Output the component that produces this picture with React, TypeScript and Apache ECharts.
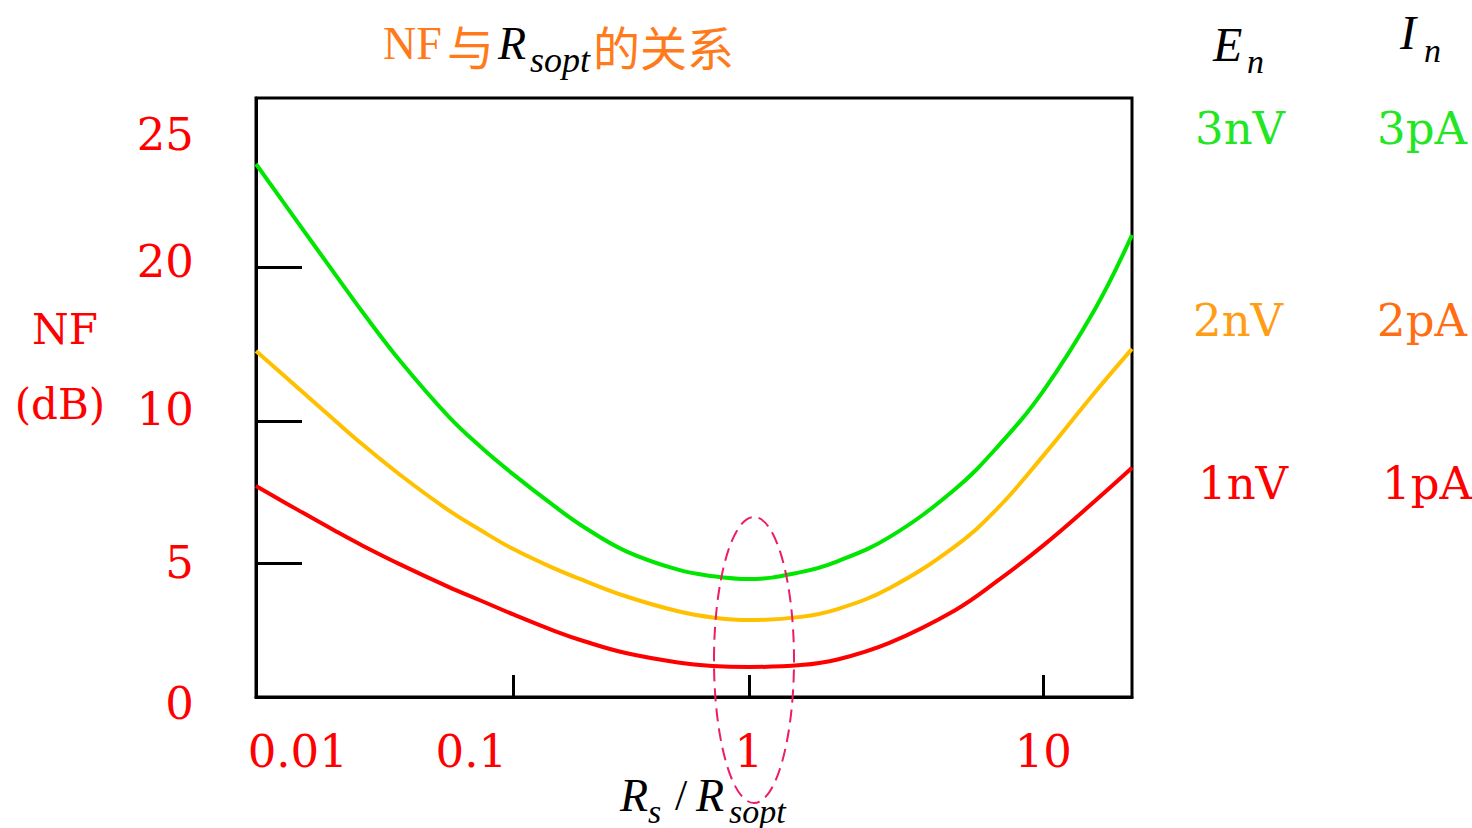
import { useEffect, useRef } from 'react';
import * as echarts from 'echarts';

// ---------- data ----------
// Rs / Rsopt sample points
const rsRatio = [0.0064, 0.01, 0.015, 0.02, 0.03, 0.05, 0.07, 0.1, 0.15, 0.2, 0.3, 0.5, 0.7, 1, 1.5, 2, 3, 5, 7, 10, 15, 20];
// NF (dB) for En = 3nV, In = 3pA
const nf3 = [23.9, 21.69, 19.47, 17.06, 13.86, 10.3, 9.11, 8.12, 6.99, 6.26, 5.42, 4.75, 4.51, 4.4, 4.66, 5.06, 5.91, 7.59, 9.1, 11.96, 17.29, 21.21];
// NF (dB) for En = 2nV, In = 2pA
const nf2 = [14.55, 12.15, 9.99, 9.17, 8.09, 6.86, 6.17, 5.49, 4.79, 4.34, 3.76, 3.2, 2.97, 2.87, 2.99, 3.28, 4.06, 5.58, 6.93, 8.78, 11.88, 14.68];
// NF (dB) for En = 1nV, In = 1pA
const nf1 = [7.71, 6.87, 6.12, 5.61, 4.94, 4.11, 3.61, 3.08, 2.46, 2.08, 1.64, 1.29, 1.16, 1.12, 1.19, 1.4, 2.02, 3.23, 4.34, 5.62, 7.19, 8.35];

const xLabelValues = [0.01, 0.1, 1, 10];
const xTickValues = [0.1, 1, 10];
const yLabelValues = [0, 5, 10, 20, 25];
const yTickValues = [5, 10, 20];
const xExtent = [0.0064, 20];
const yExtent = [0, 26.4];

const seriesNames = ['3nV / 3pA', '2nV / 2pA', '1nV / 1pA'];
const enLabels = ['3nV', '2nV', '1nV'];
const inLabels = ['3pA', '2pA', '1pA'];

// ---------- schematic (piecewise) axis scales of the drawing ----------
const X_LOG_KNOTS = [-2, -1, 0, 1];
const X_AXIS_KNOTS = [-1.532, -0.8, 0, 1];
const Y_DB_KNOTS = [0, 5, 10, 20, 25];
const Y_AXIS_KNOTS = [0, 0.9537, 1.9644, 3.0605, 4.0];

function interp(v: number, xs: number[], ys: number[]) {
  let i = 0;
  while (i < xs.length - 2 && v > xs[i + 1]) i++;
  const t = (v - xs[i]) / (xs[i + 1] - xs[i]);
  return ys[i] + t * (ys[i + 1] - ys[i]);
}
const xToAxis = (r: number) => interp(Math.log10(r), X_LOG_KNOTS, X_AXIS_KNOTS);
const yToAxis = (db: number) => interp(db, Y_DB_KNOTS, Y_AXIS_KNOTS);
function nearest(u: number, vals: number[], map: (v: number) => number) {
  let best = vals[0];
  let bd = Infinity;
  for (const v of vals) {
    const d = Math.abs(map(v) - u);
    if (d < bd) {
      bd = d;
      best = v;
    }
  }
  return best;
}

const RED = '#ff0000';
const GREEN = '#00e600';
const AMBER = '#ffc000';
const ORANGE = '#ff7a1a';
const SERIF = '"DejaVu Serif", serif';
const TIMES = '"Liberation Serif", serif';
const CJK = '"Noto Sans CJK SC", sans-serif';

function txt(text: string, x: number, y: number, fontSize: number, fill: string, fontFamily: string, opts: any = {}) {
  return {
    type: 'text',
    x,
    y,
    z: 20,
    style: {
      text,
      fill,
      fontSize,
      fontFamily,
      fontStyle: opts.italic ? 'italic' : 'normal',
      align: opts.align || 'left',
      textAlign: opts.align || 'left',
      verticalAlign: 'middle',
      textVerticalAlign: 'middle',
    },
  };
}

const labelRich = (padding: number[]) => ({ padding, color: RED, fontFamily: SERIF, fontSize: 45 });

export default function App() {
  const ref = useRef<HTMLDivElement>(null);
  useEffect(() => {
    if (!ref.current) return;
    const chart = echarts.init(ref.current, null, { renderer: 'svg' });
    const colors = [GREEN, AMBER, RED];
    const sets = [nf3, nf2, nf1];
    const option: any = {
      animation: false,
      backgroundColor: '#ffffff',
      grid: {
        left: 256,
        top: 98,
        right: 340,
        bottom: 131,
        show: true,
        borderColor: '#000',
        borderWidth: 3,
        containLabel: false,
        outerBoundsMode: 'none',
      },
      xAxis: {
        type: 'value',
        min: xToAxis(xExtent[0]),
        max: xToAxis(xExtent[1]),
        axisLine: { show: true, onZero: false, lineStyle: { color: '#000', width: 3 } },
        axisTick: {
          show: true,
          inside: true,
          length: 22,
          customValues: xTickValues.map(xToAxis),
          lineStyle: { color: '#000', width: 3 },
        },
        axisLabel: {
          customValues: xLabelValues.map(xToAxis),
          formatter: (u: number) => {
            const v = nearest(u, xLabelValues, xToAxis);
            return v === 0.1 ? `{shift|${v}}` : String(v);
          },
          color: RED,
          fontFamily: SERIF,
          fontSize: 45,
          margin: 32,
          rich: { shift: labelRich([0, 84, 0, 0]) },
        },
        splitLine: { show: false },
      },
      yAxis: {
        type: 'value',
        min: yToAxis(yExtent[0]),
        max: yToAxis(yExtent[1]),
        axisLine: { show: true, onZero: false, lineStyle: { color: '#000', width: 3 } },
        axisTick: {
          show: true,
          inside: true,
          length: 46,
          customValues: yTickValues.map(yToAxis),
          lineStyle: { color: '#000', width: 3 },
        },
        axisLabel: {
          customValues: yLabelValues.map(yToAxis),
          formatter: (u: number) => {
            const v = nearest(u, yLabelValues, yToAxis);
            if (v === 10) return `{up|${v}}`;
            if (v === 20) return `{up2|${v}}`;
            if (v === 0) return `{down|${v}}`;
            return String(v);
          },
          color: RED,
          fontFamily: SERIF,
          fontSize: 45,
          margin: 62,
          rich: {
            up: labelRich([0, 0, 22, 0]),
            up2: labelRich([0, 0, 10, 0]),
            down: labelRich([12, 0, 0, 0]),
          },
        },
        splitLine: { show: false },
      },
      series: sets.map((vals, k) => ({
        type: 'line',
        name: seriesNames[k],
        data: rsRatio.map((r, i) => [xToAxis(r), yToAxis(vals[i])]),
        smooth: 0.4,
        showSymbol: false,
        symbol: 'none',
        clip: false,
        z: 3,
        lineStyle: { color: colors[k], width: 4 },
        itemStyle: { color: colors[k] },
      })),
      graphic: [
        // title
        txt('NF', 383, 43, 46, ORANGE, TIMES),
        txt('与', 447, 44, 47, ORANGE, CJK),
        txt('R', 498, 43, 46, '#000', TIMES, { italic: true }),
        txt('sopt', 530, 60, 36, '#000', TIMES, { italic: true }),
        txt('的关系', 593, 45, 47, ORANGE, CJK),
        // En / In headers
        txt('E', 1213, 44, 48, '#000', TIMES, { italic: true }),
        txt('n', 1247, 61, 34, '#000', TIMES, { italic: true }),
        txt('I', 1400, 32, 48, '#000', TIMES, { italic: true }),
        txt('n', 1424, 50, 34, '#000', TIMES, { italic: true }),
        // En / In values
        txt(enLabels[0], 1195, 128, 45, '#22e622', SERIF),
        txt(inLabels[0], 1377, 128, 45, '#22e622', SERIF),
        txt(enLabels[1], 1193, 320, 45, '#ff9d14', SERIF),
        txt(inLabels[1], 1377, 320, 45, '#ff6e12', SERIF),
        txt(enLabels[2], 1198, 483, 45, RED, SERIF),
        txt(inLabels[2], 1382, 483, 45, RED, SERIF),
        // y-axis name
        txt('NF', 65, 329, 42, RED, SERIF, { align: 'center' }),
        txt('(dB)', 60, 404, 42, RED, SERIF, { align: 'center' }),
        // x-axis name
        txt('R', 620, 795, 46, '#000', TIMES, { italic: true }),
        txt('s', 648, 811, 34, '#000', TIMES, { italic: true }),
        txt('/', 675, 795, 44, '#000', TIMES),
        txt('R', 696, 795, 46, '#000', TIMES, { italic: true }),
        txt('sopt', 729, 811, 34, '#000', TIMES, { italic: true }),
        // dashed ellipse around the optimum
        {
          type: 'ellipse',
          z: 15,
          shape: { cx: 754, cy: 660, rx: 40, ry: 143 },
          style: { fill: 'none', stroke: '#ee1a6a', lineWidth: 2, lineDash: [13, 7] },
        },
      ],
    };
    chart.setOption(option);
    return () => chart.dispose();
  }, []);
  return (
    <div
      ref={ref}
      style={{ position: 'absolute', left: 0, top: 0, width: 1472, height: 828 }}
    />
  );
}
